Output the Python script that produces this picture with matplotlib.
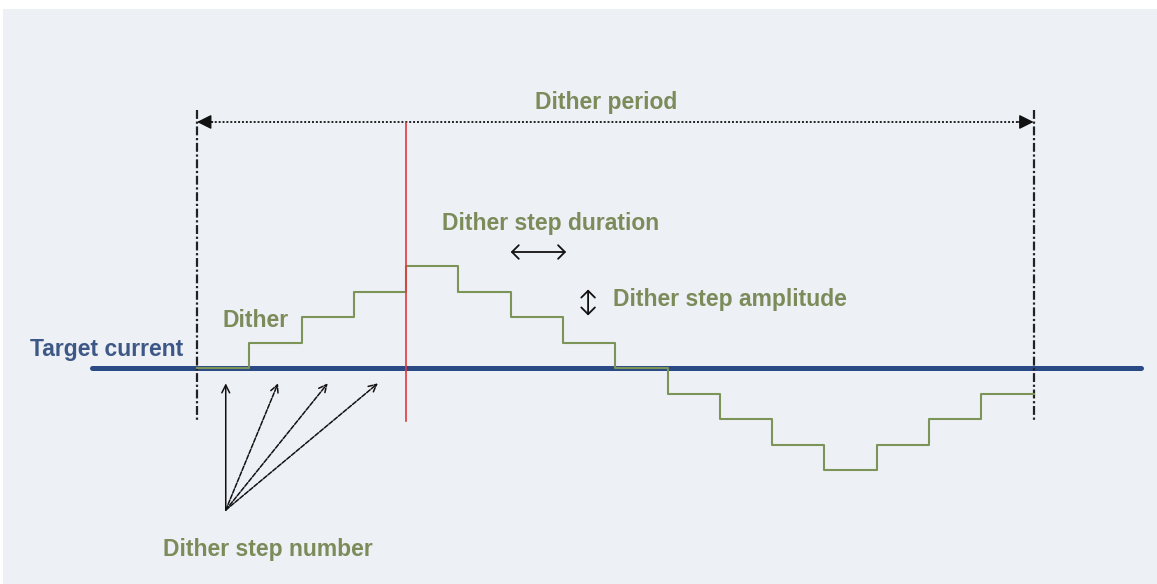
import matplotlib.pyplot as plt

plt.rcParams['font.family'] = ['Liberation Sans', 'DejaVu Sans']

# Dither staircase: one level per step (units of step amplitude)
step_levels = [0, 1, 2, 3, 4, 3, 2, 1, 0, -1, -2, -3, -4, -3, -2, -1]
step_edges = list(range(len(step_levels) + 1))
period_start = 0
period_end = len(step_levels)
marker_step = 4            # red marker line position
arrow_targets = [0.55, 1.55, 2.5, 3.46]   # "Dither step number" arrows

green_txt = "#7b8b5a"
green_line = "#7d9458"
blue_line = "#2a4a85"
blue_txt = "#3d5886"
fs = 16.5

fig = plt.figure(figsize=(11.57, 5.84), dpi=100, facecolor="white")
ax = fig.add_axes([3 / 1157, 0, 1154 / 1157, 575 / 584])
ax.set_facecolor("#edf0f5")
ax.set_xlim(-3.71, 18.36)
ax.set_ylim(-8.47, 14.08)
ax.set_xticks([])
ax.set_yticks([])
for s in ax.spines.values():
    s.set_visible(False)

# target current line
ax.plot([-2.0, 18.05], [0, 0], color=blue_line, lw=3.6, solid_capstyle="round", zorder=2)
ax.text(-0.27, 0.71, "Target current", color=blue_txt, fontsize=fs, fontweight="bold",
        ha="right", va="center")

# staircase
ax.step(step_edges, step_levels + [step_levels[-1]], where="post",
        color=green_line, lw=1.5, zorder=3)

# period boundaries
for xb in [period_start, period_end]:
    ax.plot([xb, xb], [10.1, -2.07], color="#222222", lw=1.6,
            linestyle=(0, (4, 1.2, 1, 1.2)), zorder=2)

# red marker
ax.plot([marker_step, marker_step], [9.6, -2.07], color="#e0393e", lw=1.2, zorder=4)

# dither period arrow
ax.plot([period_start + 0.2, period_end - 0.2], [9.65, 9.65], color="#222222",
        lw=1.4, linestyle=(0, (1, 1)))
ax.annotate("", xy=(period_start, 9.65), xytext=(period_start + 0.3, 9.65),
            arrowprops=dict(arrowstyle="-|>", color="#111111", lw=1, mutation_scale=22,
                            shrinkA=0, shrinkB=0))
ax.annotate("", xy=(period_end, 9.65), xytext=(period_end - 0.3, 9.65),
            arrowprops=dict(arrowstyle="-|>", color="#111111", lw=1, mutation_scale=22,
                            shrinkA=0, shrinkB=0))
ax.text(7.82, 10.43, "Dither period", color=green_txt,
        fontsize=fs, fontweight="bold", ha="center", va="center")

# step duration
ax.annotate("", xy=(7.06, 4.55), xytext=(6.0, 4.55),
            arrowprops=dict(arrowstyle="<->, head_length=0.35, head_width=0.35",
                            color="#111111", lw=1.3, mutation_scale=14,
                            shrinkA=0, shrinkB=0))
ax.text(6.77, 5.65, "Dither step duration", color=green_txt, fontsize=fs,
        fontweight="bold", ha="center", va="center")

# step amplitude
ax.annotate("", xy=(7.48, 3.08), xytext=(7.48, 2.06),
            arrowprops=dict(arrowstyle="<->, head_length=0.35, head_width=0.35",
                            color="#111111", lw=1.3, mutation_scale=14,
                            shrinkA=0, shrinkB=0))
ax.text(7.95, 2.67, "Dither step amplitude", color=green_txt, fontsize=fs,
        fontweight="bold", ha="left", va="center")

ax.text(0.48, 1.88, "Dither", color=green_txt, fontsize=fs, fontweight="bold",
        ha="left", va="center")

# step number arrows
for i, xt in enumerate(arrow_targets):
    ax.annotate("", xy=(xt, -0.6), xytext=(0.55, -5.57),
                arrowprops=dict(arrowstyle="->", color="#111111", lw=1.1,
                                linestyle="-" if i == 0 else (0, (3, 1)),
                                mutation_scale=14, shrinkA=0, shrinkB=0))
ax.text(1.35, -7.1, "Dither step number", color=green_txt, fontsize=fs,
        fontweight="bold", ha="center", va="center")

fig.savefig("out.png", dpi=100, facecolor="white")
